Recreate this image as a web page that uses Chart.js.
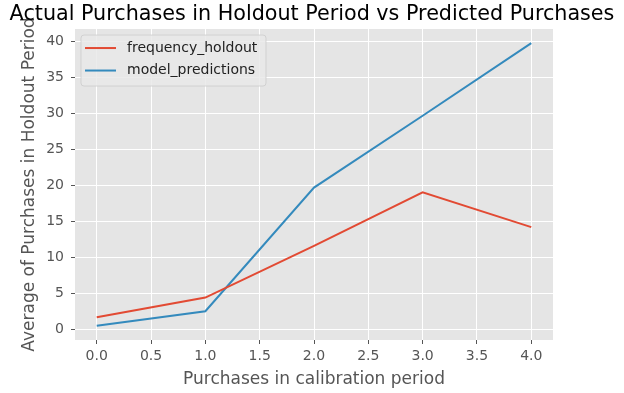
<!DOCTYPE html>
<html>
<head>
<meta charset="utf-8">
<script src="https://cdn.jsdelivr.net/npm/chart.js@4.4.1/dist/chart.umd.min.js"></script>
<style>
  html, body { margin: 0; padding: 0; background: #ffffff; }
  #wrap { width: 624px; height: 393px; }
</style>
</head>
<body>
<div id="wrap"><canvas id="c" width="624" height="393"></canvas></div>
<script>
const calibrationPurchases = [0, 1, 2, 3, 4];
const frequencyHoldout = [1.67, 4.4, 11.6, 19.05, 14.2];
const modelPredictions = [0.46, 2.5, 19.7, 29.7, 39.8];
const xTickValues = [0, 0.5, 1, 1.5, 2, 2.5, 3, 3.5, 4];
const yTickValues = [0, 5, 10, 15, 20, 25, 30, 35, 40];
const seriesNames = ['frequency_holdout', 'model_predictions'];

const FONT = "'DejaVu Sans', sans-serif";

const bgPlugin = {
  id: 'areaBg',
  beforeDraw(chart) {
    const {ctx, chartArea: a} = chart;
    ctx.save();
    ctx.fillStyle = '#E5E5E5';
    ctx.fillRect(a.left, a.top, a.right - a.left, a.bottom - a.top);
    ctx.restore();
  }
};

const legendPlugin = {
  id: 'mplLegend',
  afterDatasetsDraw(chart) {
    const {ctx, chartArea: a} = chart;
    const x = a.left + 6, y = a.top + 6, w = 185, h = 51, r = 3;
    ctx.save();
    ctx.beginPath();
    ctx.moveTo(x + r, y);
    ctx.lineTo(x + w - r, y);
    ctx.quadraticCurveTo(x + w, y, x + w, y + r);
    ctx.lineTo(x + w, y + h - r);
    ctx.quadraticCurveTo(x + w, y + h, x + w - r, y + h);
    ctx.lineTo(x + r, y + h);
    ctx.quadraticCurveTo(x, y + h, x, y + h - r);
    ctx.lineTo(x, y + r);
    ctx.quadraticCurveTo(x, y, x + r, y);
    ctx.closePath();
    ctx.fillStyle = 'rgba(233,233,233,0.85)';
    ctx.fill();
    ctx.strokeStyle = 'rgba(204,204,204,0.8)';
    ctx.lineWidth = 1;
    ctx.stroke();
    chart.data.datasets.forEach((ds, i) => {
      const cy = y + 13 + i * 22.5;
      ctx.beginPath();
      ctx.moveTo(x + 4, cy);
      ctx.lineTo(x + 35, cy);
      ctx.strokeStyle = ds.borderColor;
      ctx.lineWidth = 2;
      ctx.stroke();
      ctx.fillStyle = '#222222';
      ctx.font = '14px ' + FONT;
      ctx.textBaseline = 'middle';
      ctx.textAlign = 'left';
      ctx.fillText(ds.label, x + 46, cy);
    });
    ctx.restore();
  }
};

const toPoints = vals => calibrationPurchases.map((c, i) => ({x: c, y: vals[i]}));

new Chart(document.getElementById('c'), {
  type: 'line',
  data: {
    datasets: [
      { label: seriesNames[0], data: toPoints(frequencyHoldout), borderColor: '#E24A33', backgroundColor: '#E24A33', borderWidth: 2, pointRadius: 0, tension: 0, fill: false },
      { label: seriesNames[1], data: toPoints(modelPredictions), borderColor: '#348ABD', backgroundColor: '#348ABD', borderWidth: 2, pointRadius: 0, tension: 0, fill: false }
    ]
  },
  options: {
    responsive: false,
    animation: false,
    devicePixelRatio: 1,
    layout: { padding: 0 },
    plugins: {
      legend: { display: false },
      tooltip: { enabled: false },
      title: {
        display: true,
        text: 'Actual Purchases in Holdout Period vs Predicted Purchases',
        color: '#000000',
        font: { family: FONT, size: 20.7, weight: 'normal' },
        padding: { top: 2, bottom: 2.2 }
      }
    },
    scales: {
      x: {
        type: 'linear',
        min: -0.2,
        max: 4.2,
        afterBuildTicks(scale) { scale.ticks = xTickValues.map(v => ({value: v})); },
        afterFit(scale) { scale.height = 53; },
        ticks: {
          color: '#555555',
          font: { family: FONT, size: 14 },
          padding: 4,
          maxRotation: 0,
          callback: v => Number(v).toFixed(1)
        },
        grid: { color: '#FFFFFF', lineWidth: 1, drawTicks: true, tickLength: 4, tickColor: '#555555', tickWidth: 1 },
        border: { display: false },
        title: {
          display: true,
          text: 'Purchases in calibration period',
          color: '#555555',
          font: { family: FONT, size: 17 },
          padding: { top: 0, bottom: 3 }
        }
      },
      y: {
        type: 'linear',
        min: -1.51,
        max: 41.77,
        afterBuildTicks(scale) { scale.ticks = yTickValues.map(v => ({value: v})); },
        afterFit(scale) { scale.width = 75; },
        ticks: {
          color: '#555555',
          font: { family: FONT, size: 14 },
          padding: 7,
          callback: v => String(v)
        },
        grid: { color: '#FFFFFF', lineWidth: 1, drawTicks: true, tickLength: 4, tickColor: '#555555', tickWidth: 1 },
        border: { display: false },
        title: {
          display: true,
          text: 'Average of Purchases in Holdout Period',
          color: '#555555',
          font: { family: FONT, size: 17 },
          padding: { top: 19, bottom: 0 }
        }
      },
      rightSpace: {
        type: 'linear',
        position: 'right',
        display: true,
        min: 0,
        max: 1,
        afterFit(scale) { scale.width = 71; },
        ticks: { display: false },
        grid: { display: false, drawTicks: false },
        border: { display: false },
        title: { display: false }
      }
    }
  },
  plugins: [bgPlugin, legendPlugin]
});
</script>
</body>
</html>
